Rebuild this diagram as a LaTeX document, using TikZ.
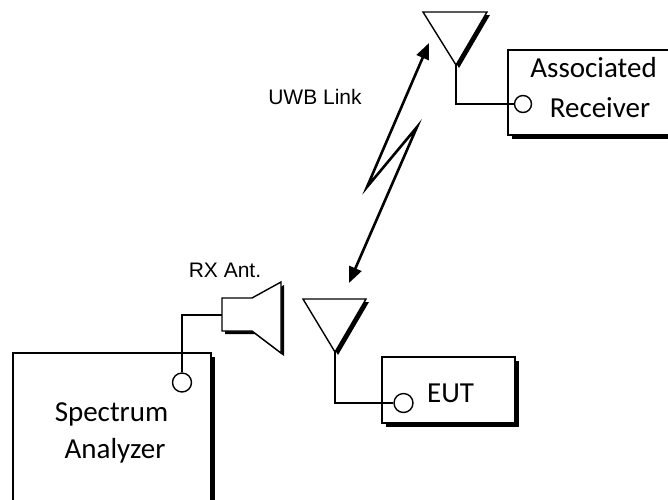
\documentclass[tikz,border=0pt]{standalone}
\usepackage{fontspec}
\setmainfont{Carlito}
\newfontfamily\arialfont{Liberation Sans}
\usetikzlibrary{arrows.meta,shadows}
\tikzset{
  box/.style={draw=black, line width=1.4pt, fill=white, rectangle, inner sep=0pt,
    drop shadow={shadow xshift=3.5pt, shadow yshift=-3.5pt, fill=black, opacity=1}},
  port/.style={draw=black, line width=1.4pt, fill=white, circle, inner sep=0pt},
  wire/.style={draw=black, line width=1.4pt},
  ant/.style={draw=black, line width=1.4pt, fill=white, line join=miter},
  shade/.style={fill=black},
  lbl/.style={font=\fontsize{29}{35}\selectfont, inner sep=0pt, anchor=base},
  albl/.style={font=\arialfont\fontsize{21}{25}\selectfont, inner sep=0pt, anchor=base},
  link/.style={draw=black, line width=2.6pt, line join=miter,
    {Triangle[length=16pt,width=13pt]}-{Triangle[length=16pt,width=13pt]}}
}
\begin{document}
\begin{tikzpicture}[x=1pt,y=-1pt]
\useasboundingbox (0,0) rectangle (668,499);
\clip (0,0) rectangle (668,499);

% boxes
\node[box, minimum width=198pt, minimum height=180pt] (sa) at (112,443) {};
\node[box, minimum width=170pt, minimum height=85pt] (ar) at (593,92.5) {};
\node[box, minimum width=133pt, minimum height=66pt] (eut) at (448.5,390) {};

% texts in boxes
\node[lbl] (sa1) at (111.5,421) {Spectrum};
\node[lbl] (sa2) at (115,458) {Analyzer};
\node[lbl, anchor=base east] (ar1) at (657,77) {Associated};
\node[lbl] (ar2) at (600,117) {Receiver};
\node[lbl, anchor=base west] (eutt) at (427,402) {EUT};

% ports
\node[port, minimum size=19pt] (sap) at (182,382.5) {};
\node[port, minimum size=17pt] (arp) at (523,104) {};
\node[port, minimum size=19pt] (eutp) at (403.5,403) {};

% upper antenna
\coordinate (a1apex) at (456,65);
\fill[shade, shift={(3,3)}] (423,12) -- (487,12) -- (456,65) -- cycle;
\filldraw[ant] (423,12) -- (487,12) -- (a1apex) -- cycle;

% lower antenna
\coordinate (a2apex) at (335,352);
\fill[shade, shift={(3,3)}] (303,299) -- (366,299) -- (335,352) -- cycle;
\filldraw[ant] (303,299) -- (366,299) -- (a2apex) -- cycle;

% horn antenna (RX Ant.)
\coordinate (hornback) at (222,315);
\fill[shade, shift={(3,3)}] (222,298) -- (252,298) -- (281,282) -- (281,353) -- (252,331) -- (222,331) -- cycle;
\filldraw[ant] (222,298) -- (252,298) -- (281,282) -- (281,353) -- (252,331) -- (222,331) -- cycle;

% feed lines
\draw[wire] (sap.north) |- (hornback);
\draw[wire] (a1apex) |- (arp.west);
\draw[wire] (a2apex) |- (eutp.west);

% UWB link
\coordinate (ltop) at (429,43);
\coordinate (z1) at (367,187);
\coordinate (z2) at (417,127);
\coordinate (lbot) at (349,283);
\draw[link] (ltop) -- (z1) -- (z2) -- (lbot);

% labels
\node[albl] (uwb) at (315,104) {UWB Link};
\node[albl] (rx) at (225,277) {RX Ant.};
\end{tikzpicture}
\end{document}
